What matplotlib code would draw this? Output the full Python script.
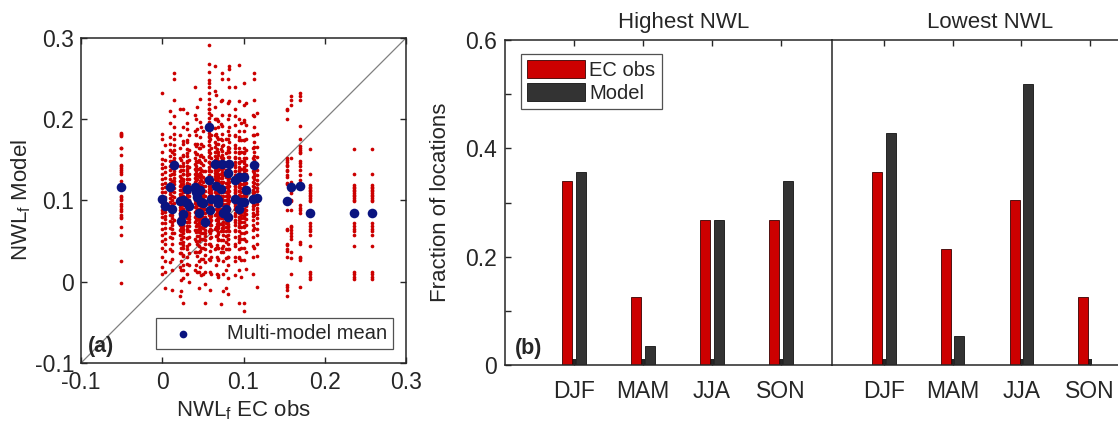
import numpy as np
import matplotlib.pyplot as plt

plt.rcParams['font.family'] = ['Liberation Sans', 'DejaVu Sans']
plt.rcParams['text.color'] = '#262626'
plt.rcParams['axes.labelcolor'] = '#262626'
plt.rcParams['xtick.color'] = '#262626'
plt.rcParams['ytick.color'] = '#262626'
plt.rcParams['axes.edgecolor'] = '#262626'
plt.rcParams['mathtext.fontset'] = 'custom'
plt.rcParams['mathtext.rm'] = 'Liberation Sans'
plt.rcParams['mathtext.it'] = 'Liberation Sans:italic'

# ---- panel (a): NWL_f per location ----
obs_x = [-0.051, 0.000, 0.003, 0.010, 0.012, 0.015, 0.022, 0.023, 0.025, 0.025,
         0.031, 0.031, 0.033, 0.040, 0.041, 0.043, 0.045, 0.046, 0.048, 0.050,
         0.052, 0.057, 0.057, 0.059, 0.060, 0.065, 0.066, 0.067, 0.068, 0.069,
         0.072, 0.074, 0.075, 0.079, 0.081, 0.082, 0.081, 0.089, 0.090, 0.094,
         0.095, 0.097, 0.101, 0.101, 0.103, 0.113, 0.112, 0.117, 0.154, 0.159,
         0.169, 0.182, 0.236, 0.258]
mean_model = [0.116, 0.102, 0.093, 0.116, 0.089, 0.144, 0.099, 0.075, 0.100, 0.083,
              0.114, 0.097, 0.093, 0.116, 0.110, 0.104, 0.084, 0.113, 0.098, 0.097,
              0.074, 0.190, 0.125, 0.088, 0.102, 0.145, 0.118, 0.102, 0.097, 0.100,
              0.114, 0.145, 0.084, 0.089, 0.080, 0.145, 0.134, 0.125, 0.102, 0.129,
              0.089, 0.098, 0.129, 0.098, 0.113, 0.144, 0.102, 0.103, 0.099, 0.117,
              0.118, 0.084, 0.084, 0.084]
# individual model values at each location (x 1e-3)
model_vals = [
    [183, 182, 180, 179, 165, 164, 156, 143, 142, 140, 138, 135, 133, 124, 106, 104, 102, 100, 95, 93, 89, 87, 82, 80, 78, 67, 58, 25, -2],
    [232, 182, 175, 160, 151, 145, 140, 132, 126, 120, 115, 110, 106, 101, 97, 93, 88, 84, 79, 72, 65, 58, 50, 41, 30, 18, 10],
    [168, 150, 141, 135, 128, 121, 116, 110, 104, 98, 94, 90, 86, 81, 77, 72, 66, 60, 53, 46, 38, 25, 12, -8],
    [210, 195, 178, 170, 162, 155, 148, 142, 137, 131, 126, 121, 117, 112, 108, 103, 98, 93, 88, 82, 75, 66, 55, 40, 24],
    [160, 149, 140, 132, 124, 118, 112, 106, 100, 95, 90, 86, 82, 78, 74, 70, 65, 60, 54, 47, 38, 28, 15, -10],
    [257, 249, 223, 204, 190, 182, 175, 168, 162, 157, 152, 148, 144, 140, 136, 132, 128, 124, 120, 115, 110, 104, 97, 88, 76, 60],
    [212, 180, 165, 152, 142, 136, 130, 124, 118, 113, 108, 104, 100, 96, 92, 88, 84, 80, 75, 70, 64, 57, 48, 35, 18, -17],
    [150, 138, 128, 120, 113, 107, 101, 96, 91, 86, 82, 78, 74, 70, 66, 62, 58, 53, 48, 42, 35, 26, 14, 2, -12],
    [213, 190, 170, 156, 146, 138, 132, 126, 120, 115, 110, 106, 102, 98, 94, 90, 86, 81, 76, 70, 63, 55, 45, 32, 15],
    [173, 155, 142, 132, 124, 117, 110, 104, 99, 94, 89, 85, 81, 77, 73, 69, 65, 60, 55, 49, 42, 33, 21, 5, -26],
    [208, 188, 174, 163, 155, 148, 142, 136, 131, 126, 121, 117, 113, 109, 105, 101, 97, 92, 87, 81, 74, 65, 54, 40, 22],
    [195, 172, 158, 147, 139, 132, 126, 120, 115, 110, 106, 102, 98, 94, 90, 86, 82, 78, 73, 68, 62, 54, 44, 30, 10],
    [180, 162, 150, 141, 133, 126, 120, 115, 110, 105, 101, 97, 93, 89, 85, 81, 77, 73, 68, 62, 55, 46, 35, 20, 0],
    [240, 205, 185, 170, 160, 152, 145, 139, 133, 128, 123, 118, 114, 110, 106, 101, 97, 92, 86, 80, 73, 64, 52, 36, 15],
    [200, 180, 167, 157, 149, 142, 136, 130, 125, 120, 116, 112, 108, 104, 100, 96, 92, 87, 82, 76, 69, 61, 50, 37, 20],
    [215, 188, 170, 157, 147, 139, 132, 126, 120, 115, 110, 106, 102, 98, 94, 90, 86, 82, 77, 71, 64, 56, 46, 32, 12],
    [165, 150, 139, 130, 122, 115, 109, 104, 99, 94, 89, 85, 81, 77, 73, 69, 65, 61, 56, 50, 44, 36, 26, 12, -8],
    [225, 196, 178, 165, 155, 147, 140, 134, 129, 124, 119, 115, 111, 107, 103, 99, 95, 90, 85, 79, 72, 63, 52, 38, 18],
    [190, 170, 156, 146, 138, 131, 125, 119, 114, 109, 105, 101, 97, 93, 89, 85, 81, 77, 72, 67, 60, 52, 42, 28, 8],
    [185, 167, 154, 144, 136, 129, 123, 118, 113, 108, 104, 100, 96, 92, 88, 84, 80, 76, 71, 66, 60, 52, 42, 28, 10],
    [150, 136, 126, 118, 111, 105, 99, 94, 89, 85, 80, 76, 72, 68, 64, 60, 56, 51, 46, 40, 33, 24, 12, -3, -26],
    [291, 268, 258, 248, 240, 232, 225, 219, 213, 207, 202, 197, 192, 188, 183, 178, 173, 168, 162, 155, 147, 138, 126, 110, 88],
    [245, 212, 193, 179, 168, 160, 153, 147, 141, 136, 131, 127, 122, 118, 114, 110, 105, 100, 95, 89, 82, 73, 62, 47, 28],
    [175, 158, 146, 136, 128, 121, 115, 109, 104, 99, 94, 90, 86, 82, 78, 74, 70, 65, 60, 54, 47, 38, 27, 12, -10],
    [205, 180, 164, 152, 143, 136, 129, 123, 118, 113, 109, 105, 101, 97, 93, 89, 85, 81, 76, 70, 63, 55, 44, 30, 10],
    [265, 235, 215, 200, 189, 180, 172, 166, 160, 155, 150, 146, 142, 138, 134, 130, 126, 121, 116, 110, 103, 94, 82, 65, 40],
    [230, 200, 182, 169, 159, 151, 144, 138, 133, 128, 123, 119, 115, 111, 107, 103, 99, 94, 89, 83, 76, 67, 56, 41, 20],
    [200, 178, 163, 152, 143, 136, 130, 124, 119, 114, 110, 106, 102, 98, 94, 90, 86, 82, 77, 71, 64, 56, 45, 31, 10],
    [190, 170, 156, 146, 137, 130, 124, 118, 113, 108, 104, 100, 96, 92, 88, 84, 80, 76, 71, 66, 59, 51, 41, 27, 6],
    [198, 175, 160, 149, 140, 133, 127, 121, 116, 111, 107, 103, 99, 95, 91, 87, 83, 79, 74, 68, 61, 53, 42, 28, 8],
    [222, 194, 176, 163, 153, 145, 139, 133, 128, 123, 118, 114, 110, 106, 102, 98, 94, 89, 84, 78, 71, 62, 51, 37, -27],
    [257, 249, 223, 205, 192, 182, 174, 167, 161, 156, 151, 147, 143, 139, 135, 131, 127, 122, 117, 111, 104, 95, 83, 66, 42],
    [168, 152, 140, 131, 123, 116, 110, 105, 100, 95, 90, 86, 82, 78, 74, 70, 66, 62, 57, 51, 44, 36, 25, 10, -12],
    [175, 158, 146, 137, 129, 122, 116, 110, 105, 100, 96, 92, 88, 84, 80, 76, 72, 67, 62, 56, 49, 40, 29, 14, -8],
    [162, 147, 136, 127, 119, 112, 106, 101, 96, 91, 87, 83, 79, 75, 71, 67, 63, 58, 53, 47, 40, 31, 20, 5, -15],
    [265, 262, 240, 222, 205, 190, 180, 172, 165, 159, 153, 148, 143, 138, 133, 128, 123, 118, 112, 106, 99, 90, 78, 62, 40],
    [250, 220, 200, 186, 175, 166, 159, 153, 147, 142, 137, 133, 129, 125, 121, 117, 113, 108, 103, 97, 90, 81, 69, 53, 30],
    [240, 212, 193, 179, 168, 160, 153, 147, 141, 136, 131, 127, 122, 118, 114, 110, 105, 100, 95, 89, 82, 73, 62, 47, 25],
    [204, 180, 164, 152, 143, 136, 129, 123, 118, 113, 109, 105, 101, 97, 93, 89, 85, 81, 76, 70, 63, 55, 44, 30, 8],
    [267, 222, 200, 185, 174, 165, 158, 152, 146, 141, 136, 132, 128, 124, 120, 116, 112, 107, 102, 96, 89, 80, 68, 52, 30],
    [178, 160, 147, 137, 129, 122, 116, 111, 106, 101, 96, 92, 88, 84, 80, 76, 72, 67, 62, 56, 49, 40, 29, 14, -26],
    [195, 174, 159, 148, 139, 132, 126, 120, 115, 110, 106, 102, 98, 94, 90, 86, 82, 78, 73, 67, 60, 52, 41, 27, 6],
    [245, 218, 199, 185, 174, 165, 158, 152, 146, 141, 136, 132, 128, 124, 120, 116, 112, 107, 102, 96, 89, 80, 68, 52, -36],
    [196, 174, 159, 148, 139, 132, 126, 120, 115, 110, 106, 102, 98, 94, 90, 86, 82, 78, 73, 67, 60, 52, 41, 27, -26],
    [220, 193, 175, 162, 152, 144, 138, 132, 127, 122, 117, 113, 109, 105, 101, 97, 93, 88, 83, 77, 70, 61, 50, 36, 16],
    [257, 249, 223, 204, 190, 180, 172, 166, 160, 155, 150, 146, 142, 138, 134, 130, 126, 121, 116, 110, 103, 94, 82, 66, 42],
    [205, 180, 164, 152, 143, 136, 129, 123, 118, 113, 109, 105, 101, 97, 93, 89, 85, 81, 76, 70, 63, 55, 44, 30, 10],
    [208, 182, 166, 154, 145, 138, 131, 125, 120, 115, 111, 107, 103, 99, 95, 91, 87, 83, 78, 72, 65, 57, 46, 32, -6],
    [213, 211, 200, 152, 150, 147, 144, 142, 138, 136, 131, 129, 122, 120, 97, 88, 65, 63, 47, 45, 40, 38, 30, -4, -6, -10, -18],
    [228, 224, 218, 152, 123, 117, 111, 109, 101, 99, 88, 69, 67, 64, 60, 56, 52, 36, 29, 10],
    [232, 228, 224, 191, 175, 167, 164, 162, 160, 158, 149, 146, 142, 138, 131, 125, 94, 91, 88, 85, 49, 47, 31, 29, 27, -6],
    [163, 133, 119, 117, 115, 113, 111, 109, 107, 105, 103, 101, 99, 72, 69, 65, 62, 58, 44, 12, 10, 6, 3],
    [163, 133, 119, 117, 115, 113, 111, 109, 107, 105, 103, 101, 99, 72, 69, 65, 62, 58, 44, 12, 10, 6, 3],
    [163, 133, 119, 117, 115, 113, 111, 109, 107, 105, 103, 101, 99, 72, 69, 65, 62, 58, 44, 12, 10, 6, 3],
]

# ---- panel (b): fraction of locations per season ----
seasons = ['DJF', 'MAM', 'JJA', 'SON']
high_obs = [0.339, 0.125, 0.268, 0.268]
high_model = [0.357, 0.036, 0.268, 0.339]
low_obs = [0.357, 0.214, 0.304, 0.125]
low_model = [0.429, 0.054, 0.518, 0.0]
stub = [0.012, 0.012, 0.012, 0.012]

RED = '#cc0000'
DARK = '#333333'
NAVY = '#0a1480'

fig = plt.figure(figsize=(11.18, 4.26), dpi=100)


def style_ticks(ax):
    ax.tick_params(direction='in', length=4, width=1.0, labelsize=16.5,
                   top=True, right=True)
    for s in ax.spines.values():
        s.set_linewidth(1.1)


# (a) scatter
ax = fig.add_axes([0.0725, 0.148, 0.2907, 0.763])
xs = np.concatenate([np.full(len(v), x) for x, v in zip(obs_x, model_vals)])
ys = np.concatenate([np.array(v) / 1000.0 for v in model_vals])
ax.scatter(xs, ys, s=7, c=RED, linewidths=0, zorder=2)
ax.plot([-0.1, 0.3], [-0.1, 0.3], color='#808080', lw=0.9, zorder=1)
ax.scatter(obs_x, mean_model, s=48, c=NAVY, linewidths=0, zorder=3,
           label='Multi-model mean')
ax.set_xlim(-0.1, 0.3)
ax.set_ylim(-0.1, 0.3)
ticks = [-0.1, 0, 0.1, 0.2, 0.3]
ticklabels = ['-0.1', '0', '0.1', '0.2', '0.3']
ax.set_xticks(ticks)
ax.set_xticklabels(ticklabels)
ax.set_yticks(ticks)
ax.set_yticklabels(ticklabels)
style_ticks(ax)
ax.tick_params(axis='x', pad=6)
ax.tick_params(axis='y', pad=5)
ax.set_xlabel('NWL$_\\mathregular{f}$ EC obs', fontsize=16, labelpad=3)
ax.set_ylabel('NWL$_\\mathregular{f}$ Model', fontsize=16, labelpad=1)
leg = ax.legend(loc='lower right', bbox_to_anchor=(0.96, 0.043), fontsize=14.5,
                frameon=True, fancybox=False, edgecolor='#262626',
                handletextpad=1.2, borderpad=0.3, borderaxespad=0,
                markerscale=0.8)
leg.get_frame().set_linewidth(0.9)
ax.text(0.02, 0.05, '(a)', transform=ax.transAxes, fontsize=15.5,
        fontweight='bold', va='center')

# (b) bars
pos = np.arange(1, len(seasons) + 1)
bw = 0.145
off = 0.098

axl = fig.add_axes([0.4517, 0.143, 0.2925, 0.763])
axr = fig.add_axes([0.7442, 0.143, 0.2621, 0.763])
for a, obs, mod in [(axl, high_obs, high_model), (axr, low_obs, low_model)]:
    a.bar(pos - off, obs, width=bw, color=RED, edgecolor='#3a0000',
          linewidth=0.6, label='EC obs', zorder=2)
    a.bar(pos + off, mod, width=bw, color=DARK, edgecolor='#111111',
          linewidth=0.6, label='Model', zorder=2)
    a.bar(pos, stub, width=0.048, color='#222222', linewidth=0, zorder=1)
    a.set_ylim(0, 0.6)
    a.set_xticks(pos)
    a.set_xticklabels(seasons)
    a.set_yticks(np.arange(0, 0.61, 0.1))
    style_ticks(a)
    a.tick_params(axis='x', pad=11)

axl.set_xlim(0, 4.74)
axr.set_xlim(0.243, 4.51)
axl.set_yticklabels(['0', '', '0.2', '', '0.4', '', '0.6'])
axl.tick_params(axis='y', right=False, pad=6)
axl.spines['right'].set_visible(False)
axr.tick_params(axis='y', left=False, labelleft=False)
axl.set_ylabel('Fraction of locations', fontsize=16, labelpad=10)
axl.set_title('Highest NWL', fontsize=16, x=0.547, pad=9)
axr.set_title('Lowest NWL', fontsize=16, x=0.54, pad=9)
leg2 = axl.legend(loc='upper left', bbox_to_anchor=(0.049, 0.957), fontsize=14.5,
                  frameon=True, fancybox=False, edgecolor='#262626',
                  handlelength=2.9, handleheight=1.0, handletextpad=0.2,
                  labelspacing=0.15, borderpad=0.3, borderaxespad=0)
leg2.get_frame().set_linewidth(0.9)
axl.text(0.03, 0.052, '(b)', transform=axl.transAxes, fontsize=15.5,
         fontweight='bold', va='center')

fig.savefig('out.png', dpi=100)
